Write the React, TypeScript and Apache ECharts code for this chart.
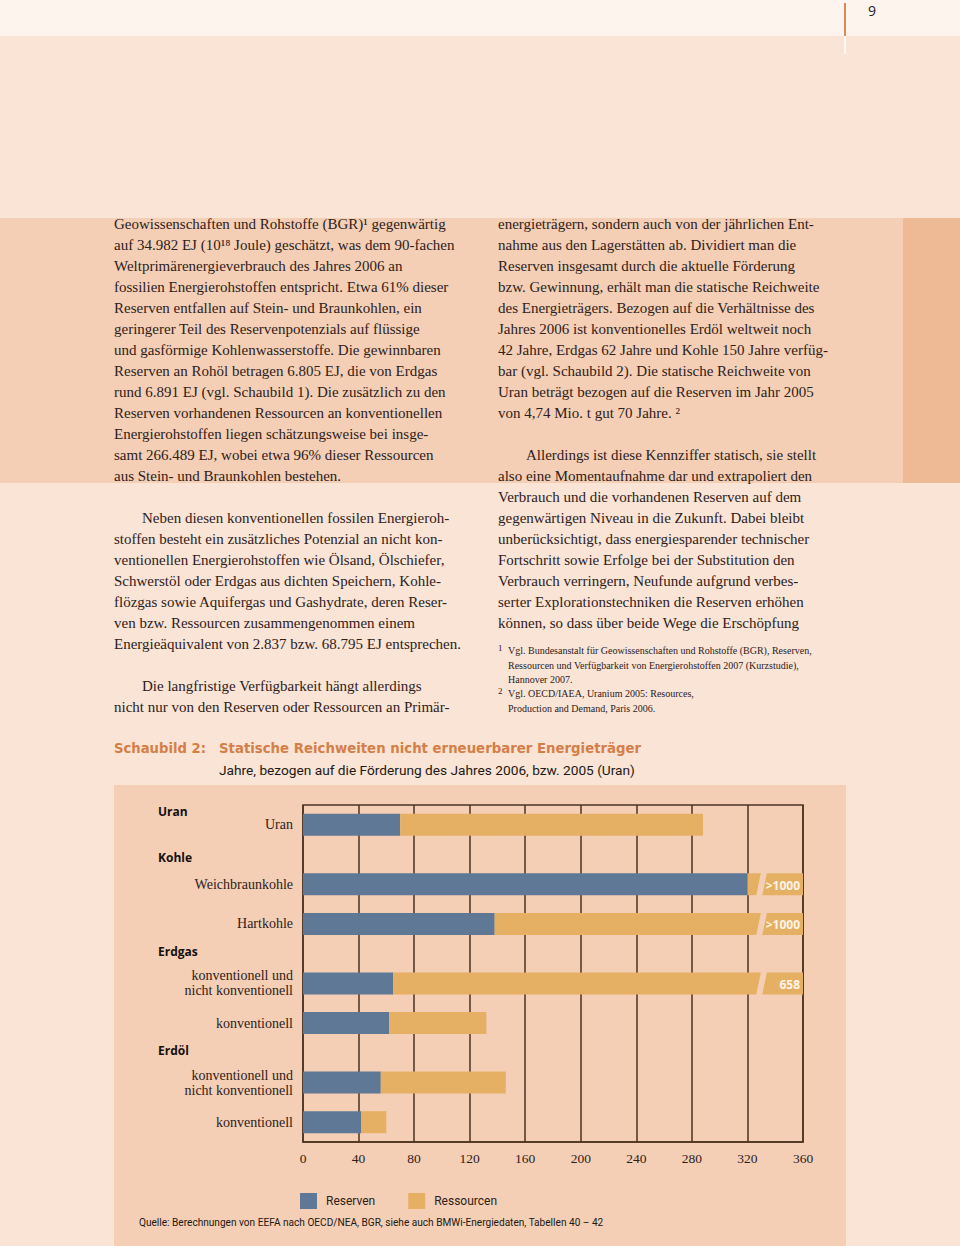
import React, { useEffect, useRef } from 'react';
import * as echarts from 'echarts';

// ---------- chart data ----------
const groupNames = ['Uran', 'Kohle', 'Erdgas', 'Erdöl'];
const groupSizes = [1, 2, 2, 2];
const categories = [
  'Uran',
  'Weichbraunkohle',
  'Hartkohle',
  'konventionell und\nnicht konventionell',
  'konventionell',
  'konventionell und\nnicht konventionell',
  'konventionell',
];
const reserves = [70, 320, 138, 65, 62, 56, 42];
const totals = [288, 1000, 1000, 658, 132, 146, 60];
const totalLabels = ['', '>1000', '>1000', '658', '', '', ''];
const xMin = 0;
const xMax = 360;
const xInterval = 40;
const seriesNames = ['Reserven', 'Ressourcen'];

// ---------- page text ----------
const leftColumn = [
  'Geowissenschaften und Rohstoffe (BGR)¹ gegenwärtig',
  'auf 34.982 EJ (10¹⁸ Joule) geschätzt, was dem 90-fachen',
  'Weltprimärenergieverbrauch des Jahres 2006 an',
  'fossilien Energierohstoffen entspricht. Etwa 61% dieser',
  'Reserven entfallen auf Stein- und Braunkohlen, ein',
  'geringerer Teil des Reservenpotenzials auf flüssige',
  'und gasförmige Kohlenwasserstoffe. Die gewinnbaren',
  'Reserven an Rohöl betragen 6.805 EJ, die von Erdgas',
  'rund 6.891 EJ (vgl. Schaubild 1). Die zusätzlich zu den',
  'Reserven vorhandenen Ressourcen an konventionellen',
  'Energierohstoffen liegen schätzungsweise bei insge-',
  'samt 266.489 EJ, wobei etwa 96% dieser Ressourcen',
  'aus Stein- und Braunkohlen bestehen.',
  '',
  '>Neben diesen konventionellen fossilen Energieroh-',
  'stoffen besteht ein zusätzliches Potenzial an nicht kon-',
  'ventionellen Energierohstoffen wie Ölsand, Ölschiefer,',
  'Schwerstöl oder Erdgas aus dichten Speichern, Kohle-',
  'flözgas sowie Aquifergas und Gashydrate, deren Reser-',
  'ven bzw. Ressourcen zusammengenommen einem',
  'Energieäquivalent von 2.837 bzw. 68.795 EJ entsprechen.',
  '',
  '>Die langfristige Verfügbarkeit hängt allerdings',
  'nicht nur von den Reserven oder Ressourcen an Primär-',
];
const rightColumn = [
  'energieträgern, sondern auch von der jährlichen Ent-',
  'nahme aus den Lagerstätten ab. Dividiert man die',
  'Reserven insgesamt durch die aktuelle Förderung',
  'bzw. Gewinnung, erhält man die statische Reichweite',
  'des Energieträgers. Bezogen auf die Verhältnisse des',
  'Jahres 2006 ist konventionelles Erdöl weltweit noch',
  '42 Jahre, Erdgas 62 Jahre und Kohle 150 Jahre verfüg-',
  'bar (vgl. Schaubild 2). Die statische Reichweite von',
  'Uran beträgt bezogen auf die Reserven im Jahr 2005',
  'von 4,74 Mio. t gut 70 Jahre. ²',
  '',
  '>Allerdings ist diese Kennziffer statisch, sie stellt',
  'also eine Momentaufnahme dar und extrapoliert den',
  'Verbrauch und die vorhandenen Reserven auf dem',
  'gegenwärtigen Niveau in die Zukunft. Dabei bleibt',
  'unberücksichtigt, dass energiesparender technischer',
  'Fortschritt sowie Erfolge bei der Substitution den',
  'Verbrauch verringern, Neufunde aufgrund verbes-',
  'serter Explorationstechniken die Reserven erhöhen',
  'können, so dass über beide Wege die Erschöpfung',
];
const footnoteMarks = ['1', '', '', '2', ''];
const footnoteLines = [
  'Vgl. Bundesanstalt für Geowissenschaften und Rohstoffe (BGR), Reserven,',
  'Ressourcen und Verfügbarkeit von Energierohstoffen 2007 (Kurzstudie),',
  'Hannover 2007.',
  'Vgl. OECD/IAEA, Uranium 2005: Resources,',
  'Production and Demand, Paris 2006.',
];
const figureLabel = 'Schaubild 2:';
const figureTitle = 'Statische Reichweiten nicht erneuerbarer Energieträger';
const figureSubtitle = 'Jahre, bezogen auf die Förderung des Jahres 2006, bzw. 2005 (Uran)';
const sourceText = 'Quelle: Berechnungen von EEFA nach OECD/NEA, BGR, siehe auch BMWi-Energiedaten, Tabellen 40 – 42';
const pageNumber = '9';

// ---------- styles ----------
const TOP_BG = '#fdf4ee';
const PAGE_BG = '#f9e4d6';
const BAND_BG = '#f4cfb5';
const STRIP_BG = '#edba95';
const PANEL_BG = '#f4cfb5';
const BLUE = '#5f7895';
const ORANGE = '#e5b064';
const GRID = '#4b3222';
const TEXT = '#2e211a';
const TITLE = '#d57f48';
const SERIF = 'Liberation Serif';

export default function App() {
  const ref = useRef<HTMLDivElement>(null);

  useEffect(() => {
    const chart = echarts.init(ref.current!, null, { renderer: 'svg', width: 960, height: 1246 });

    // slot layout: bars two slots apart within a group, an extra slot between groups
    const slots: number[] = [];
    let s = 1;
    groupSizes.forEach((n) => {
      for (let k = 0; k < n; k++) {
        slots.push(s);
        s += 2;
      }
      s += 1;
    });
    const slotCount = slots[slots.length - 1] + 2;
    const yLabels: string[] = new Array(slotCount).fill('');
    const reserveData: any[] = new Array(slotCount).fill('-');
    const resourceData: any[] = new Array(slotCount).fill('-');
    categories.forEach((c, i) => {
      yLabels[slots[i]] = c;
      reserveData[slots[i]] = reserves[i];
      resourceData[slots[i]] = totals[i] - reserves[i];
    });
    const breakAt = 328;
    const breakRows = categories.map((_, i) => i).filter((i) => totalLabels[i] !== '');
    const breakData = breakRows.map((i) => [breakAt, slots[i]]);

    const graphics: any[] = [];
    const txt = (text: string, x: number, y: number, st: any) =>
      graphics.push({ type: 'text', x, y, silent: true, style: { text, verticalAlign: 'middle', fill: TEXT, ...st } });

    leftColumn.forEach((l, i) => {
      if (!l) return;
      const indent = l.startsWith('>');
      txt(indent ? l.slice(1) : l, indent ? 142 : 114, 224 + 21 * i, { fontFamily: SERIF, fontSize: 15 });
    });
    rightColumn.forEach((l, i) => {
      if (!l) return;
      const indent = l.startsWith('>');
      txt(indent ? l.slice(1) : l, indent ? 526 : 498, 224 + 21 * i, { fontFamily: SERIF, fontSize: 15 });
    });
    const fnY = [650, 665, 679, 693, 708];
    footnoteLines.forEach((l, i) => {
      if (footnoteMarks[i]) txt(footnoteMarks[i], 498, fnY[i] - 2, { fontFamily: SERIF, fontSize: 9 });
      txt(l, 508, fnY[i], { fontFamily: SERIF, fontSize: 10 });
    });
    txt(pageNumber, 868, 10, { fontFamily: 'Open Sans', fontSize: 14, fill: '#222' });
    txt(figureLabel, 114, 748, { fontFamily: 'DejaVu Sans', fontWeight: 'bold', fontSize: 13.2, fill: TITLE });
    txt(figureTitle, 219, 748, { fontFamily: 'DejaVu Sans', fontWeight: 'bold', fontSize: 13.3, fill: TITLE });
    txt(figureSubtitle, 219, 770, { fontFamily: 'Roboto', fontSize: 13.7, fill: '#221913' });
    txt(sourceText, 139, 1222, { fontFamily: 'Roboto', fontSize: 10.1, fill: '#221913' });
    const headerY = [811, 857, 951, 1050];
    groupNames.forEach((g, i) =>
      txt(g, 158, headerY[i], { fontFamily: 'Open Sans', fontWeight: 'bold', fontSize: 12, fill: '#15100c' })
    );

    chart.setOption({
      animation: false,
      backgroundColor: 'transparent',
      grid: {
        left: 303,
        top: 805,
        width: 500,
        height: 337,
        show: true,
        borderColor: GRID,
        borderWidth: 1.5,
        backgroundColor: 'transparent',
      },
      xAxis: {
        type: 'value',
        min: xMin,
        max: xMax,
        interval: xInterval,
        axisLine: { show: true, lineStyle: { color: GRID, width: 1.5 } },
        axisTick: { show: false },
        splitLine: { show: true, lineStyle: { color: GRID, width: 1.5 } },
        axisLabel: { margin: 9, fontFamily: SERIF, fontSize: 13.5, color: TEXT },
      },
      yAxis: {
        type: 'category',
        data: yLabels,
        inverse: true,
        boundaryGap: false,
        axisLine: { show: false },
        axisTick: { show: false },
        splitLine: { show: false },
        axisLabel: { interval: 0, margin: 10, fontFamily: SERIF, fontSize: 14, color: TEXT, lineHeight: 15 },
      },
      legend: {
        data: seriesNames,
        left: 300,
        top: 1193,
        padding: 0,
        icon: 'rect',
        itemWidth: 17,
        itemHeight: 16,
        itemGap: 33,
        textStyle: { fontFamily: 'Roboto', fontSize: 12, color: TEXT, padding: [0, 0, 0, 4] },
      },
      series: [
        {
          name: seriesNames[0],
          type: 'bar',
          stack: 'range',
          barWidth: 22,
          clip: true,
          itemStyle: { color: BLUE },
          data: reserveData,
        },
        {
          name: seriesNames[1],
          type: 'bar',
          stack: 'range',
          barWidth: 22,
          clip: true,
          itemStyle: { color: ORANGE },
          data: resourceData,
        },
        {
          name: 'break',
          type: 'custom',
          silent: true,
          z: 5,
          data: breakData,
          encode: { x: 0, y: 1 },
          renderItem: (params: any, api: any) => {
            const row = breakRows[params.dataIndex];
            const c = api.coord([api.value(0), api.value(1)]);
            const right = api.coord([xMax, api.value(1)])[0];
            const h = 22;
            const top = c[1] - h / 2 - 1;
            const bot = c[1] + h / 2 + 1;
            return {
              type: 'group',
              children: [
                {
                  type: 'polygon',
                  shape: {
                    points: [
                      [c[0] + 2.5, top],
                      [c[0] + 8.5, top],
                      [c[0] + 3.5, bot],
                      [c[0] - 2.5, bot],
                    ],
                  },
                  style: { fill: PANEL_BG },
                },
                {
                  type: 'text',
                  x: right - 3,
                  y: c[1] + 1,
                  style: {
                    text: totalLabels[row],
                    fill: '#fff5e8',
                    fontFamily: 'Open Sans',
                    fontWeight: 'bold',
                    fontSize: 12,
                    align: 'right',
                    verticalAlign: 'middle',
                  },
                },
              ],
            };
          },
        },
      ],
      graphic: { elements: graphics },
    });

    return () => chart.dispose();
  }, []);

  const abs = (l: number, t: number, w: number, h: number, bg: string): React.CSSProperties => ({
    position: 'absolute',
    left: l,
    top: t,
    width: w,
    height: h,
    background: bg,
  });

  return (
    <div style={{ position: 'absolute', left: 0, top: 0, width: 960, height: 1246, background: PAGE_BG, overflow: 'hidden' }}>
      <div style={abs(0, 0, 960, 36, TOP_BG)} />
      <div style={abs(0, 218, 903, 265, BAND_BG)} />
      <div style={abs(903, 218, 57, 265, STRIP_BG)} />
      <div style={abs(114, 785, 732, 461, PANEL_BG)} />
      <div style={abs(844, 3, 2, 33, '#d98a5c')} />
      <div style={abs(844, 36, 2, 18, '#fefaf6')} />
      <div ref={ref} style={{ position: 'absolute', left: 0, top: 0, width: 960, height: 1246 }} />
    </div>
  );
}
